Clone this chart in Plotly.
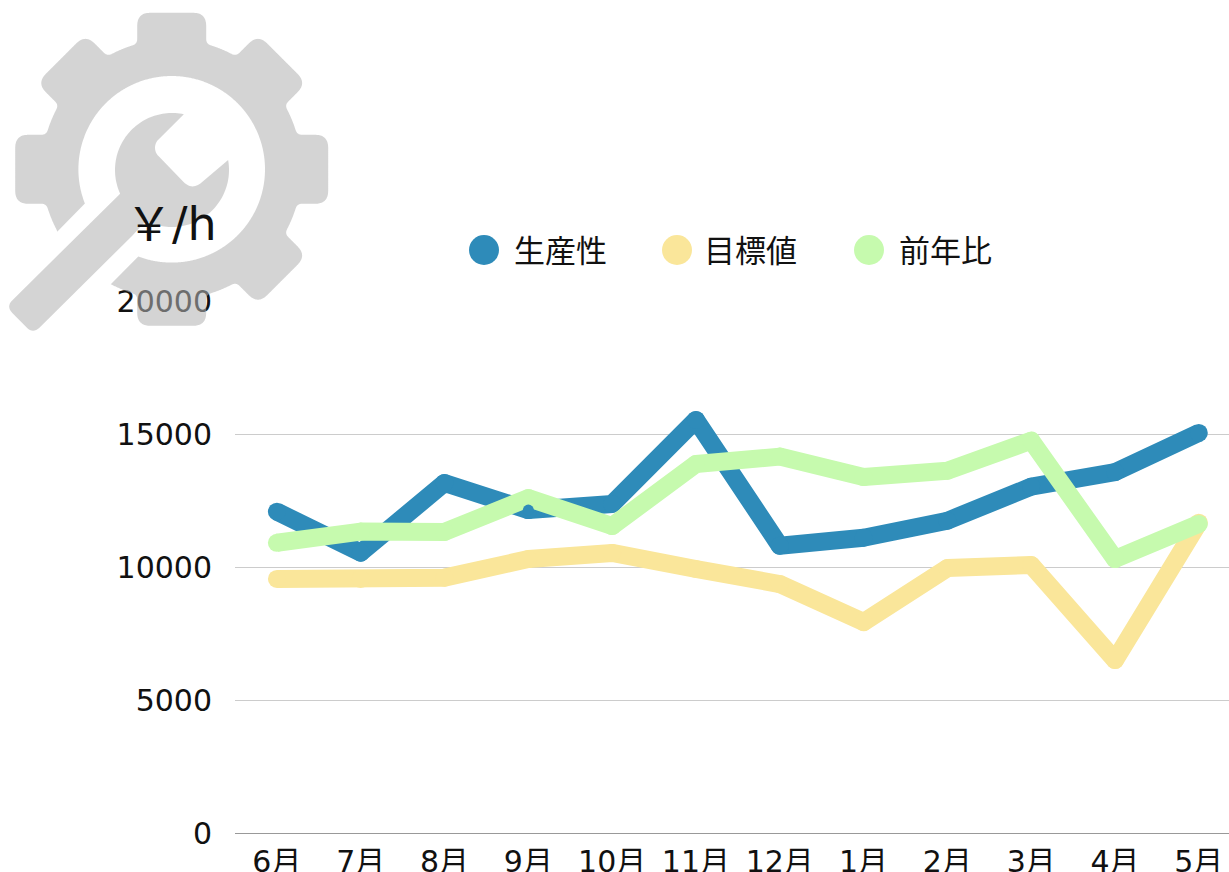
import math
import numpy as np
import plotly.graph_objects as go

months = ["6月", "7月", "8月", "9月", "10月", "11月", "12月", "1月", "2月", "3月", "4月", "5月"]
productivity = [12080, 10540, 13160, 12140, 12370, 15530, 10800, 11100, 11740, 13020, 13570, 15040]
target = [9550, 9550, 9600, 10300, 10530, 9925, 9360, 7930, 9960, 10075, 6500, 11665]
previous_year = [10910, 11330, 11320, 12590, 11540, 13870, 14150, 13380, 13620, 14750, 10300, 11620]
series_names = ["生産性", "目標値", "前年比"]
series_colors = ["#2E8BB9", "#FAE69A", "#C6FAAE"]
y_ticks = [0, 5000, 10000, 15000, 20000]

W, H = 1229, 872
L, T, B = 235, 301, 39
FONT = "DejaVu Sans, Noto Sans CJK JP, sans-serif"
TEXT = "#111111"


def px(x):
    return (x - L) / (W - L)


def py(y):
    return (H - B - y) / (H - T - B)


def rounded(vertices):
    """vertices: (x, y, corner radius); returns a closed sampled polyline"""
    out = []
    n = len(vertices)
    for i, (x, y, r) in enumerate(vertices):
        if r <= 0:
            out.append((x, y))
            continue
        ax, ay, _ = vertices[i - 1]
        bx, by, _ = vertices[(i + 1) % n]
        la, lb = math.hypot(ax - x, ay - y), math.hypot(bx - x, by - y)
        p0 = (x + (ax - x) / la * r, y + (ay - y) / la * r)
        p2 = (x + (bx - x) / lb * r, y + (by - y) / lb * r)
        for t in np.linspace(0, 1, 9):
            out.append(((1 - t) ** 2 * p0[0] + 2 * t * (1 - t) * x + t * t * p2[0],
                        (1 - t) ** 2 * p0[1] + 2 * t * (1 - t) * y + t * t * p2[1]))
    return out


def to_path(points):
    return "M" + "L".join(f"{px(x):.5f},{py(y):.5f}" for x, y in points) + "Z"


CX, CY = 171.7, 169.3
R_BODY, R_TIP, HALF, R_HOLE = 130, 156.5, 34.5, 93.3
BAND_LO, BAND_HI = 289.3, 394.3


def gear_icon():
    verts = []
    base_ang = math.asin(HALF / R_BODY)
    bx = math.sqrt(R_BODY ** 2 - HALF ** 2)
    for k in range(8):
        a = k * math.pi / 4
        ca, sa = math.cos(a), math.sin(a)
        for lx, ly, r in [(bx, -HALF, 5), (R_TIP, -HALF, 13), (R_TIP, HALF, 13), (bx, HALF, 5)]:
            verts.append((CX + lx * ca - ly * sa, CY + lx * sa + ly * ca, r))
        for th in np.linspace(a + base_ang, a + math.pi / 4 - base_ang, 8)[1:-1]:
            verts.append((CX + R_BODY * math.cos(th), CY + R_BODY * math.sin(th), 0))
    dense = []
    pts = rounded(verts) + [rounded(verts)[0]]
    for (x0, y0), (x1, y1) in zip(pts[:-1], pts[1:]):
        for t in np.linspace(0, 1, max(2, int(math.hypot(x1 - x0, y1 - y0) / 0.5)), endpoint=False):
            dense.append((x0 + (x1 - x0) * t, y0 + (y1 - y0) * t))

    def trim(points):
        mask = [BAND_LO < x + y < BAND_HI and x < CX + 30 and y > CY - 30 for x, y in points]
        i = max(j for j, m in enumerate(mask) if m)
        points = points[i + 1:] + points[:i + 1]
        mask = mask[i + 1:] + mask[:i + 1]
        return [p for p, m in zip(points, mask) if not m]

    outer = trim(dense)
    inner = trim([(CX + R_HOLE * math.cos(t), CY + R_HOLE * math.sin(t))
                  for t in np.linspace(0, 2 * math.pi, 720, endpoint=False)])
    return to_path(outer + inner[::-1])


def wrench_icon():
    cx, cy, r = 172, 170, 57
    arc = lambda a, b, n: [(cx + r * math.cos(math.radians(t)), cy + r * math.sin(math.radians(t)), 0)
                           for t in np.linspace(a, b, n)]
    verts = [(6.0, 306.5, 9), (33.0, 334.0, 9), (132.0, 236.0, 0)]
    verts += arc(117, -10, 60)
    verts += [(197, 186.5, 6), (188, 186.5, 6), (155, 152.5, 5), (155, 143, 5)]
    verts += arc(282, 155.5, 60)
    return to_path(rounded(verts))


fig = go.Figure()
for name, values, color in zip(series_names, [productivity, target, previous_year], series_colors):
    fig.add_trace(go.Scatter(
        x=months, y=values, name=name, mode="lines+markers", showlegend=False,
        line=dict(color=color, width=18),
        marker=dict(color=color, size=18, opacity=1, line=dict(width=0)),
    ))
fig.add_trace(go.Scatter(
    x=[months[3]], y=[productivity[3]], mode="markers", showlegend=False,
    marker=dict(color=series_colors[0], size=11, opacity=1, line=dict(width=0)),
))

shapes = [
    dict(type="path", xref="paper", yref="paper", layer="above", path=gear_icon(),
         fillcolor="rgb(179,179,179)", opacity=0.57, line=dict(width=0)),
    dict(type="path", xref="paper", yref="paper", layer="above", path=wrench_icon(),
         fillcolor="rgb(179,179,179)", opacity=0.57, line=dict(width=0)),
]
annotations = [dict(text="￥/h", xref="paper", yref="paper", x=px(124), y=py(224), xanchor="left",
                    yanchor="middle", showarrow=False, font=dict(family=FONT, size=46, color=TEXT))]
for name, color, cx, tx in zip(series_names, series_colors, [484, 677, 869], [512, 702, 896.5]):
    shapes.append(dict(type="circle", xref="paper", yref="paper", layer="above",
                       x0=px(cx - 15), x1=px(cx + 15), y0=py(265), y1=py(235),
                       fillcolor=color, line=dict(width=0)))
    annotations.append(dict(text=name, xref="paper", yref="paper", x=px(tx), y=py(251), xanchor="left",
                            yanchor="middle", showarrow=False, font=dict(family=FONT, size=31, color=TEXT)))

fig.update_layout(
    width=W, height=H, autosize=False,
    margin=dict(l=L, r=0, t=T, b=B, pad=0),
    paper_bgcolor="white", plot_bgcolor="white",
    shapes=shapes, annotations=annotations,
    font=dict(family=FONT, size=30, color=TEXT),
    xaxis=dict(type="category", range=[-0.5, 11.36], showgrid=False, showline=True, linecolor="#999999",
               linewidth=1, ticks="", tickfont=dict(size=30, color=TEXT), ticklabelstandoff=2,
               automargin=False, zeroline=False, tickangle=0),
    yaxis=dict(range=[0, 20000], tickvals=y_ticks, ticktext=[str(v) for v in y_ticks],
               showgrid=True, gridcolor="#CCCCCC", gridwidth=1, zeroline=False, showline=False,
               ticks="", tickfont=dict(size=30, color=TEXT), ticklabelstandoff=22, automargin=False),
)
fig.write_html("out.html", config=dict(displayModeBar=False),
               post_script="document.body.style.margin='0';document.documentElement.style.overflow='hidden';"
                           "document.querySelectorAll('.js-line').forEach(function(p){p.style.strokeLinejoin='round';});")
